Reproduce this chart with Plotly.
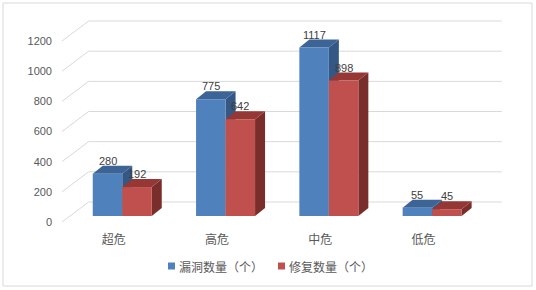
import plotly.graph_objects as go

categories = ["超危", "高危", "中危", "低危"]
vuln_counts = [280, 775, 1117, 55]
fixed_counts = [192, 642, 898, 45]
y_ticks = [0, 200, 400, 600, 800, 1000, 1200]
series_names = ["漏洞数量（个）", "修复数量（个）"]

W, H = 536, 290
ML, MR, MT, MB = 62, 34, 15, 65
PX_PER_CAT = 103.3
PX_PER_UNIT = 0.1508
plot_w = W - ML - MR
plot_h = H - MT - MB
x_lo = -0.5
x_hi = x_lo + plot_w / PX_PER_CAT
base_px = 216
y_hi = (base_px - MT) / PX_PER_UNIT
y_lo = (base_px - (H - MB)) / PX_PER_UNIT


def dxu(px):
    return px / PX_PER_CAT


def dyu(px):
    return px / PX_PER_UNIT


bar_w = dxu(29.5)
blue_off = dxu(-20.9)
red_off = blue_off + bar_w
dep_x = dxu(10)
dep_y = dyu(8)

BLUE = "#4F81BD"
BLUE_TOP = "#3C6496"
BLUE_SIDE = "#345783"
RED = "#C0504D"
RED_TOP = "#953735"
RED_SIDE = "#7A2E2C"
GRID = "#D9D9D9"
TXT = "#595959"
FONT = "Liberation Sans, Noto Sans CJK SC, sans-serif"
CJK = "Noto Sans CJK SC"

shapes = []
wall_x0 = x_lo + dxu(26.6)
wall_x1 = dxu(501.7 - (ML + 0.5 * PX_PER_CAT))
for t in y_ticks:
    shapes.append(dict(type="line", xref="x", yref="y", layer="below",
                       x0=x_lo, y0=t - dyu(6), x1=wall_x0, y1=t + dyu(14),
                       line=dict(color=GRID, width=1)))
    shapes.append(dict(type="line", xref="x", yref="y", layer="below",
                       x0=wall_x0, y0=t + dyu(14), x1=wall_x1, y1=t + dyu(14),
                       line=dict(color=GRID, width=1)))


def poly(pts, color):
    d = "M " + " L ".join(f"{x},{y}" for x, y in pts) + " Z"
    return dict(type="path", xref="x", yref="y", layer="below", path=d,
                fillcolor=color, line=dict(width=0))


for i in range(len(categories)):
    for vals, off, top_c, side_c in ((vuln_counts, blue_off, BLUE_TOP, BLUE_SIDE),
                                     (fixed_counts, red_off, RED_TOP, RED_SIDE)):
        v = vals[i]
        xl = i + off
        xr = xl + bar_w
        shapes.append(poly([(xr, 0), (xr + dep_x, dep_y), (xr + dep_x, v + dep_y), (xr, v)], side_c))
        shapes.append(poly([(xl, v), (xr, v), (xr + dep_x, v + dep_y), (xl + dep_x, v + dep_y)], top_c))

fig = go.Figure()
fig.add_trace(go.Bar(x=list(range(len(categories))), y=vuln_counts, width=bar_w, offset=blue_off,
                     marker=dict(color=BLUE, line=dict(width=0)), showlegend=False,
                     name=series_names[0]))
fig.add_trace(go.Bar(x=list(range(len(categories))), y=fixed_counts, width=bar_w, offset=red_off,
                     marker=dict(color=RED, line=dict(width=0)), showlegend=False,
                     name=series_names[1]))

annotations = []
for i in range(len(categories)):
    for vals, off in ((vuln_counts, blue_off), (fixed_counts, red_off)):
        annotations.append(dict(x=i + off + bar_w / 2, y=vals[i], xref="x", yref="y",
                                text=str(vals[i]), showarrow=False, yshift=13,
                                font=dict(size=11, color="#404040", family=FONT)))


def px2paper_x(px):
    return (px - ML) / plot_w


def px2paper_y(py):
    return (H - MB - py) / plot_h


legend_items = [(series_names[0], BLUE, 168), (series_names[1], RED, 278)]
for name, col, sx in legend_items:
    shapes.append(dict(type="rect", xref="paper", yref="paper", layer="above",
                       x0=px2paper_x(sx), x1=px2paper_x(sx + 7),
                       y0=px2paper_y(269.5), y1=px2paper_y(262.5),
                       fillcolor=col, line=dict(width=0)))
    annotations.append(dict(xref="paper", yref="paper", x=px2paper_x(sx + 9), y=px2paper_y(266),
                            xanchor="left", yanchor="middle", text=name, showarrow=False,
                            font=dict(size=12, color=TXT, family=CJK)))

shapes.append(dict(type="rect", xref="paper", yref="paper", layer="above",
                   x0=px2paper_x(3), x1=px2paper_x(532), y0=px2paper_y(286), y1=px2paper_y(3),
                   line=dict(color="#D9D9D9", width=1), fillcolor="rgba(0,0,0,0)"))

fig.update_layout(
    width=W, height=H, autosize=False,
    margin=dict(l=ML, r=MR, t=MT, b=MB, pad=0, autoexpand=False),
    paper_bgcolor="white", plot_bgcolor="white",
    barmode="overlay", showlegend=False,
    shapes=shapes, annotations=annotations,
    font=dict(family=FONT, color=TXT),
    xaxis=dict(range=[x_lo, x_hi], tickvals=list(range(len(categories))), ticktext=categories,
               showgrid=False, zeroline=False, showline=False, ticks="",
               tickfont=dict(size=12, color=TXT, family=CJK),
               ticklabelstandoff=6),
    yaxis=dict(range=[y_lo, y_hi], tickvals=y_ticks, showgrid=False, zeroline=False,
               showline=False, ticks="", ticklabelshift=6, ticklabelstandoff=9,
               tickfont=dict(size=11, color=TXT)),
)

fig.write_html("out.html")
